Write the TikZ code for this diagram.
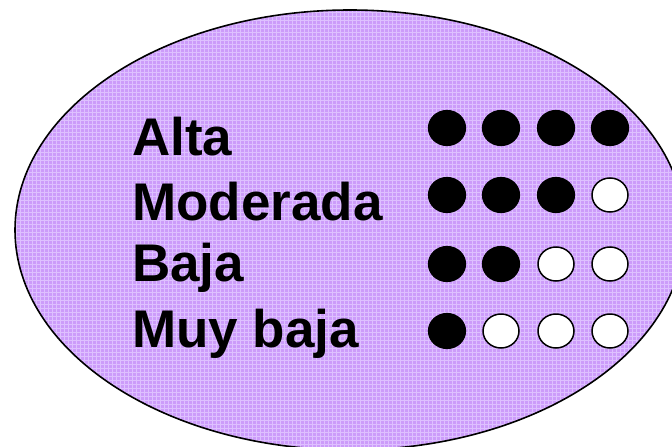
\documentclass[tikz,border=0pt]{standalone}
\usepackage{fontspec}
\setmainfont{Liberation Sans}
\usetikzlibrary{shapes.geometric}
\definecolor{lilac}{RGB}{204,156,250}
\definecolor{lilacline}{RGB}{222,192,255}
\begin{document}
\begin{tikzpicture}[x=1pt,y=-1pt,
  lbl/.style={anchor=base west,inner sep=0pt,font=\fontsize{53}{60}\selectfont\bfseries},
  full/.style={ellipse,draw=black,fill=black,line width=1.2pt,minimum width=37pt,minimum height=35pt,inner sep=0pt},
  empty/.style={ellipse,draw=black,fill=white,line width=1.5pt,minimum width=36pt,minimum height=34pt,inner sep=0pt}]
\useasboundingbox (0,0) rectangle (672,447);
\clip (0,0) rectangle (672,447);
\begin{scope}
\clip (350,230) ellipse [x radius=335, y radius=220];
\fill[lilac] (0,0) rectangle (672,460);
\foreach \k in {0,4,...,672} {\draw[lilacline,line width=0.7pt] (\k,0) -- (\k,460);}
\foreach \k in {0,4,...,460} {\draw[lilacline,line width=0.7pt] (0,\k) -- (672,\k);}
\end{scope}
\draw[line width=1.6pt] (350,230) ellipse [x radius=335, y radius=220];
\node[lbl] (alta) at (132,155) {Alta};
\node[lbl] (mod) at (132,220) {Moderada};
\node[lbl] (baja) at (132,281) {Baja};
\node[lbl] (muy) at (132,347) {Muy baja};
% row 1
\node[full] (a1) at (447,128) {};
\node[full] (a2) at (501,128) {};
\node[full] (a3) at (556,128) {};
\node[full] (a4) at (610,128) {};
% row 2
\node[full] (m1) at (447,195) {};
\node[full] (m2) at (501,195) {};
\node[full] (m3) at (556,195) {};
\node[empty] (m4) at (610,195) {};
% row 3
\node[full] (b1) at (447,264) {};
\node[full] (b2) at (501,264) {};
\node[empty] (b3) at (556,264) {};
\node[empty] (b4) at (610,264) {};
% row 4
\node[full] (u1) at (447,331) {};
\node[empty] (u2) at (501,331) {};
\node[empty] (u3) at (556,331) {};
\node[empty] (u4) at (610,331) {};
\end{tikzpicture}
\end{document}
